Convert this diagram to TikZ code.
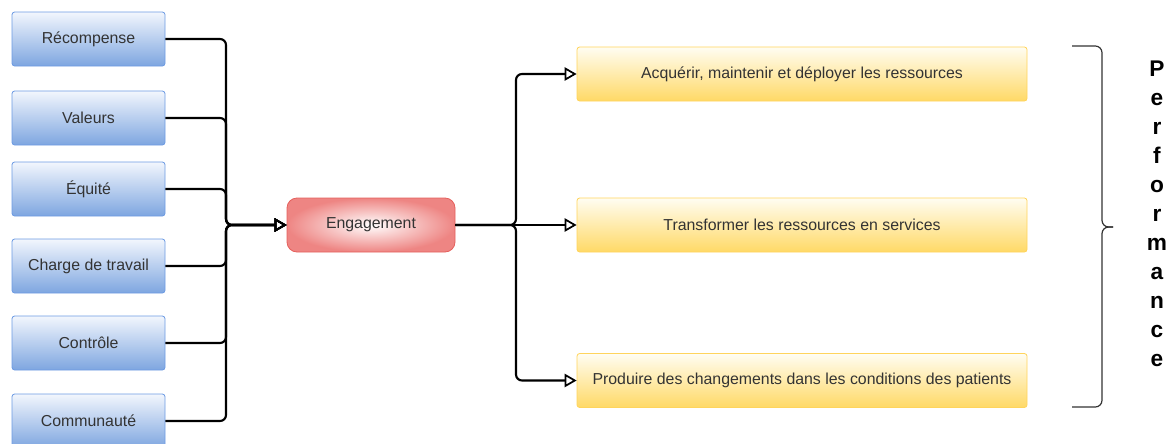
\documentclass[tikz,border=0pt]{standalone}
\usepackage{fontspec}
\setmainfont{Liberation Sans}
\usetikzlibrary{positioning,calc,arrows.meta}

\definecolor{factorTop}{HTML}{F2F6FD}
\definecolor{factorBottom}{HTML}{7EA6E0}
\definecolor{factorLine}{HTML}{6D9BE3}
\definecolor{taskTop}{HTML}{FFFDF2}
\definecolor{taskBottom}{HTML}{FFD966}
\definecolor{taskLine}{HTML}{FFD45C}
\definecolor{coreInner}{HTML}{FFFFFF}
\definecolor{coreOuter}{HTML}{EE8583}
\definecolor{coreLine}{HTML}{E5605C}
\definecolor{labelGray}{HTML}{333333}

\tikzset{ARROW/.style={line width=1.6pt, rounded corners=4.5pt, -{Triangle[open,length=9pt,width=10pt,line width=1.3pt]}}}
\tikzset{BOXTEXT/.style={text=labelGray, font=\fontsize{11.9}{13}\selectfont}}
\tikzset{FACTOR/.style={rectangle, BOXTEXT, rounded corners=2pt, draw=factorLine, semithick, top color=factorTop, bottom color=factorBottom, minimum width=114.75pt, minimum height=40.5pt}}
\tikzset{TASK/.style={rectangle, BOXTEXT, rounded corners=2pt, draw=taskLine, semithick, top color=taskTop, bottom color=taskBottom, minimum width=337.5pt, minimum height=40.5pt}}
\tikzset{CORE/.style={rectangle, BOXTEXT, rounded corners=7.5pt, draw=coreLine, semithick, inner color=coreInner, outer color=coreOuter, minimum width=126pt, minimum height=40.5pt}}

\begin{document}
\begin{tikzpicture}[x=0.75pt, y=-0.75pt]
    \useasboundingbox (0,0) rectangle (1173,443);

    % facteurs
    \node[FACTOR] (n_reward) at (88.5,39) {Récompense};
    \node[FACTOR] (n_values) at (88.5,118) {Valeurs};
    \node[FACTOR] (n_equity) at (88.5,189) {Équité};
    \node[FACTOR] (n_workload) at (88.5,266) {Charge de travail};
    \node[FACTOR] (n_control) at (88.5,343) {Contrôle};
    \node[FACTOR] (n_community) at (88.5,421) {Communauté};

    \node[CORE] (n_engagement) at (371,225) {Engagement};

    % missions
    \node[TASK] (n_acquire) at (802,74) {Acquérir, maintenir et déployer les ressources};
    \node[TASK] (n_transform) at (802,225) {Transformer les ressources en services};
    \node[TASK] (n_produce) at (802,380.5) {Produire des changements dans les conditions des patients};

    \coordinate (junction_left) at (226,225);
    \coordinate (junction_right) at (516,225);

    \draw[ARROW] (n_reward.east) -| (junction_left) -- (n_engagement.west);
    \draw[ARROW] (n_values.east) -| (junction_left) -- (n_engagement.west);
    \draw[ARROW] (n_equity.east) -| (junction_left) -- (n_engagement.west);
    \draw[ARROW] (n_workload.east) -| (junction_left) -- (n_engagement.west);
    \draw[ARROW] (n_control.east) -| (junction_left) -- (n_engagement.west);
    \draw[ARROW] (n_community.east) -| (junction_left) -- (n_engagement.west);

    \draw[ARROW] (n_engagement.east) -- (junction_right) |- (n_acquire.west);
    \draw[ARROW] (n_engagement.east) -- (n_transform.west);
    \draw[ARROW] (n_engagement.east) -- (junction_right) |- (n_produce.west);

    % accolade
    \coordinate (brace_top) at (1072,46);
    \coordinate (brace_bottom) at (1072,407);
    \coordinate (brace_tip) at (1113,227);
    \draw[labelGray, line width=0.9pt, rounded corners=5pt] (brace_top) -- (1102,46) -- (1102,227) -- (brace_tip);
    \draw[labelGray, line width=0.9pt, rounded corners=5pt] (brace_bottom) -- (1102,407) -- (1102,227) -- (brace_tip);

    \node[align=center, font=\fontsize{17}{21.75}\selectfont\bfseries] (n_performance) at (1157,214)
        {P\\e\\r\\f\\o\\r\\m\\a\\n\\c\\e};
\end{tikzpicture}
\end{document}
